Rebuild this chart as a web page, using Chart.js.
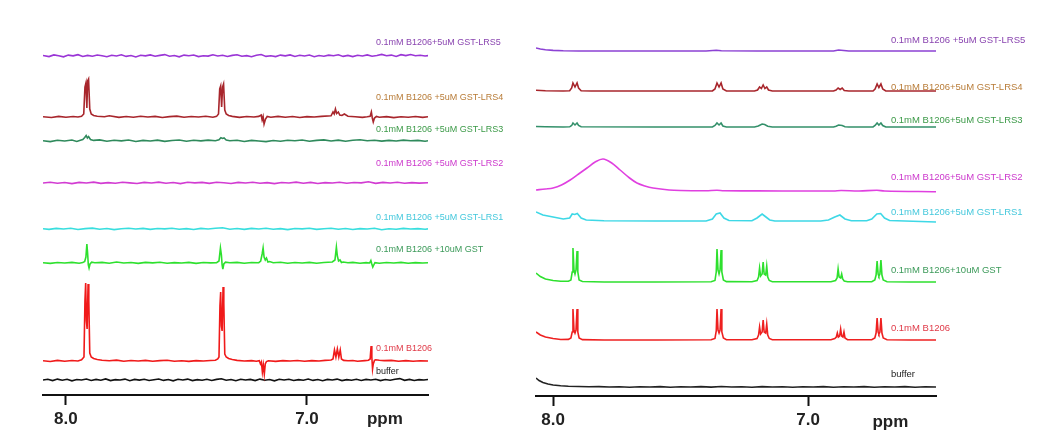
<!DOCTYPE html>
<html>
<head>
<meta charset="utf-8">
<script src="https://cdn.jsdelivr.net/npm/chart.js@4.4.1/dist/chart.umd.min.js"></script>
<style>
  body { margin: 0; background: #fff; }
  .panel { position: absolute; top: 0; height: 440px; }
</style>
</head>
<body>
<div class="panel" style="left:0;width:523px"><canvas id="leftChart" width="523" height="440"></canvas></div>
<div class="panel" style="left:523px;width:524px"><canvas id="rightChart" width="524" height="440"></canvas></div>
<script>
// Tick labels on the ppm axis
const ppmTicks = [8.0, 7.0];

// ---------- left panel spectra, [ppm, intensity] ----------
const leftLRS5 = [[8.095,0.5],[8.07,-0.6],[8.05,1.1],[8.03,0.2],[8.01,-0.8],[7.99,0.9],[7.97,0.1],[7.95,1.3],[7.93,-0.5],[7.91,0.6],[7.89,-0.2],[7.87,1.0],[7.85,0.2],[7.83,-0.7],[7.81,0.8],[7.79,0.0],[7.77,1.2],[7.75,-0.4],[7.73,0.5],[7.71,-0.9],[7.69,0.7],[7.67,0.1],[7.65,1.1],[7.63,-0.3],[7.61,0.6],[7.59,1.4],[7.57,-0.2],[7.55,0.5],[7.53,-0.8],[7.51,0.9],[7.49,0.2],[7.47,1.0],[7.45,-0.6],[7.43,0.3],[7.41,-0.1],[7.39,1.2],[7.37,0.0],[7.35,0.8],[7.33,-0.5],[7.31,0.6],[7.29,1.3],[7.27,-0.3],[7.25,0.4],[7.23,-0.7],[7.21,0.8],[7.19,1.5],[7.17,-0.4],[7.15,0.3],[7.13,-0.6],[7.11,0.9],[7.09,0.1],[7.07,1.1],[7.05,-0.5],[7.03,0.7],[7.01,0.0],[6.99,1.0],[6.97,-0.7],[6.95,0.5],[6.93,-0.2],[6.91,0.9],[6.89,0.3],[6.87,1.2],[6.85,-0.4],[6.83,0.6],[6.81,-0.6],[6.79,0.8],[6.77,0.0],[6.75,1.1],[6.73,-0.3],[6.71,0.5],[6.69,1.6],[6.67,0.2],[6.65,0.9],[6.63,-0.5],[6.61,1.3],[6.59,0.4],[6.57,1.5],[6.55,0.3],[6.53,0.8],[6.51,0.0],[6.498,0.4]];
const leftLRS4 = [[8.095,0.3],[8.06,-0.5],[8.03,0.6],[8.0,-0.3],[7.97,0.5],[7.95,0.0],[7.935,0.8],[7.926,3],[7.921,30],[7.917,34],[7.913,9],[7.910,36],[7.906,38],[7.901,8],[7.895,3],[7.885,1.5],[7.87,0.8],[7.84,0.2],[7.82,1.2],[7.78,-0.4],[7.75,0.5],[7.72,-0.2],[7.69,0.8],[7.66,0.0],[7.63,0.6],[7.60,-0.5],[7.57,0.4],[7.54,0.9],[7.51,-0.3],[7.48,0.5],[7.45,0.0],[7.42,0.7],[7.39,-0.2],[7.375,0.6],[7.367,3],[7.362,28],[7.358,31],[7.354,10],[7.350,30],[7.346,33],[7.341,7],[7.335,3],[7.325,1.5],[7.31,0.6],[7.28,-0.4],[7.25,0.5],[7.22,0.0],[7.20,0.6],[7.19,2],[7.186,-3],[7.182,0.5],[7.178,-7],[7.172,-2],[7.165,0.5],[7.15,-0.3],[7.12,0.6],[7.09,-0.2],[7.06,0.5],[7.03,-0.5],[7.0,0.4],[6.97,0.0],[6.94,0.6],[6.90,1.2],[6.892,5],[6.887,3],[6.882,8],[6.877,3.5],[6.870,5],[6.864,2],[6.855,1.5],[6.845,3],[6.83,0.8],[6.80,0.2],[6.77,-0.4],[6.75,0.3],[6.738,0.8],[6.733,5],[6.729,-1],[6.725,-5],[6.72,-1],[6.712,0.5],[6.70,-0.3],[6.67,0.4],[6.64,-0.6],[6.61,0.3],[6.58,-0.2],[6.55,0.5],[6.52,-0.4],[6.498,0.2]];
const leftLRS3 = [[8.095,0.2],[8.065,-0.6],[8.035,0.8],[8.005,0.0],[7.975,1.0],[7.955,-0.4],[7.94,0.8],[7.93,1.5],[7.922,3.5],[7.916,5.5],[7.911,3],[7.906,4.5],[7.898,1.5],[7.885,0.6],[7.86,1.1],[7.83,-0.3],[7.80,0.7],[7.77,0.1],[7.74,1.0],[7.71,-0.5],[7.68,0.6],[7.65,0.0],[7.62,0.9],[7.59,-0.4],[7.56,0.5],[7.53,1.0],[7.50,-0.2],[7.47,0.7],[7.44,0.1],[7.41,0.9],[7.38,0.3],[7.365,1.2],[7.357,3.2],[7.35,2.5],[7.344,3],[7.335,1],[7.32,0.2],[7.29,0.8],[7.26,-0.5],[7.23,0.6],[7.20,0.0],[7.17,-0.6],[7.14,0.5],[7.11,-0.2],[7.08,0.8],[7.05,0.2],[7.02,1.0],[6.99,-0.3],[6.96,0.6],[6.93,1.1],[6.90,0.0],[6.87,0.9],[6.84,-0.2],[6.81,0.7],[6.78,1.2],[6.75,0.3],[6.72,0.8],[6.69,-0.1],[6.66,0.6],[6.63,0.0],[6.60,0.9],[6.57,0.3],[6.54,0.6],[6.51,-0.2],[6.498,0.2]];
const leftLRS2 = [[8.095,0.0],[8.065,0.7],[8.035,-0.3],[8.005,0.5],[7.975,-0.6],[7.945,0.6],[7.915,0.0],[7.885,0.9],[7.855,-0.4],[7.825,0.4],[7.795,-0.2],[7.765,0.8],[7.735,0.1],[7.705,-0.5],[7.675,0.6],[7.645,0.0],[7.615,0.9],[7.585,-0.3],[7.555,0.5],[7.525,-0.6],[7.495,0.7],[7.465,0.1],[7.435,0.6],[7.405,-0.4],[7.375,0.8],[7.345,0.2],[7.315,-0.5],[7.285,0.6],[7.255,0.0],[7.225,0.8],[7.195,-0.3],[7.165,0.4],[7.135,-0.6],[7.105,0.5],[7.075,0.0],[7.045,0.9],[7.015,-0.2],[6.985,0.6],[6.955,-0.5],[6.925,0.4],[6.895,0.0],[6.865,0.8],[6.835,-0.3],[6.805,0.5],[6.775,0.1],[6.745,1.3],[6.715,-0.4],[6.685,0.6],[6.655,0.0],[6.625,0.7],[6.595,-0.3],[6.565,0.4],[6.535,-0.1],[6.498,0.2]];
const leftLRS1 = [[8.095,0.3],[8.07,-0.4],[8.04,0.6],[8.01,0.0],[7.98,0.7],[7.95,-0.5],[7.92,0.4],[7.89,0.9],[7.86,-0.2],[7.83,0.5],[7.80,-0.6],[7.77,0.3],[7.74,0.8],[7.71,0.0],[7.68,0.6],[7.65,-0.4],[7.62,0.5],[7.59,0.1],[7.56,0.8],[7.53,-0.3],[7.50,0.4],[7.47,-0.5],[7.44,0.6],[7.41,0.0],[7.38,0.7],[7.35,1.3],[7.32,-0.2],[7.29,0.5],[7.26,-0.4],[7.23,0.6],[7.20,0.0],[7.17,0.8],[7.14,-0.3],[7.11,0.4],[7.08,-0.6],[7.05,0.5],[7.02,0.1],[6.99,0.7],[6.96,-0.4],[6.93,0.3],[6.90,0.8],[6.87,-0.2],[6.84,0.5],[6.81,-0.5],[6.78,0.4],[6.75,0.0],[6.72,0.7],[6.69,-0.8],[6.66,0.3],[6.63,-0.3],[6.60,0.6],[6.57,0.0],[6.54,0.4],[6.51,-0.2],[6.498,0.1]];
const leftGST = [[8.095,0.2],[8.065,-0.4],[8.035,0.5],[8.005,0.0],[7.975,0.6],[7.945,-0.3],[7.93,0.4],[7.922,1.5],[7.917,6],[7.913,19],[7.910,10],[7.907,-2],[7.904,-5],[7.900,-1],[7.893,0.8],[7.88,0.2],[7.85,0.6],[7.82,-0.3],[7.79,1.0],[7.76,0.0],[7.73,0.5],[7.70,-0.4],[7.67,0.6],[7.64,0.1],[7.61,0.7],[7.58,-0.3],[7.55,0.4],[7.52,0.0],[7.49,0.6],[7.46,-0.4],[7.43,0.5],[7.40,0.1],[7.375,0.4],[7.365,2],[7.359,15],[7.355,8],[7.352,-2],[7.349,-6],[7.345,-1],[7.338,0.8],[7.32,0.3],[7.29,0.6],[7.26,-0.2],[7.23,0.5],[7.20,0.3],[7.192,2],[7.186,9],[7.182,15],[7.178,6],[7.173,3],[7.168,5],[7.162,1],[7.155,1.5],[7.14,0.3],[7.11,0.7],[7.08,-0.2],[7.05,0.5],[7.02,0.0],[6.99,0.6],[6.96,-0.3],[6.93,0.5],[6.895,1],[6.884,3],[6.878,16],[6.874,7],[6.869,2],[6.863,3],[6.857,0.5],[6.85,1],[6.83,0.2],[6.81,0.6],[6.78,-0.2],[6.755,0.4],[6.74,0.0],[6.735,2.5],[6.731,-1],[6.727,-4],[6.723,-2],[6.718,0.3],[6.70,-0.2],[6.67,0.5],[6.64,0.0],[6.61,0.6],[6.58,-0.2],[6.55,0.4],[6.52,0.0],[6.498,0.3]];
const leftB1206 = [[8.095,0.3],[8.065,-0.5],[8.035,0.6],[8.005,-0.2],[7.975,0.5],[7.95,0.0],[7.935,1.2],[7.925,4],[7.921,60],[7.918,78],[7.915,40],[7.912,32],[7.908,77],[7.905,60],[7.901,8],[7.895,4],[7.885,2.5],[7.87,1.5],[7.85,0.8],[7.82,0.3],[7.79,0.9],[7.76,-0.2],[7.73,0.5],[7.70,0.0],[7.67,0.6],[7.64,-0.3],[7.61,0.4],[7.58,0.8],[7.55,-0.2],[7.52,0.3],[7.49,-0.4],[7.46,0.4],[7.43,0.0],[7.40,0.5],[7.38,0.8],[7.37,2],[7.365,4],[7.361,55],[7.358,69],[7.355,35],[7.352,30],[7.348,74],[7.345,58],[7.341,7],[7.335,4],[7.325,2.5],[7.31,1.5],[7.29,0.6],[7.26,0.0],[7.23,0.4],[7.21,-0.3],[7.198,0.4],[7.193,-3],[7.189,-1],[7.185,-11],[7.181,-4],[7.177,-13],[7.173,-3],[7.168,-0.5],[7.16,0.3],[7.13,-0.4],[7.10,0.4],[7.07,0.0],[7.04,0.5],[7.01,-0.3],[6.98,0.4],[6.95,0.0],[6.925,0.6],[6.90,1],[6.892,2],[6.886,11],[6.880,4],[6.874,12],[6.868,4],[6.862,11],[6.857,2],[6.848,0.6],[6.83,0.2],[6.81,0.5],[6.79,-0.3],[6.76,0.4],[6.745,0.8],[6.738,2],[6.734,15],[6.731,4],[6.728,-8],[6.725,-3],[6.72,0.6],[6.715,1.2],[6.70,0.8],[6.68,0.4],[6.65,0.6],[6.62,-0.2],[6.59,0.4],[6.56,-0.3],[6.53,0.3],[6.498,0.0]];
const leftBuffer = [[8.095,0.0],[8.075,0.8],[8.055,-0.6],[8.035,0.9],[8.015,-0.2],[7.995,0.7],[7.975,-0.8],[7.955,0.5],[7.935,0.0],[7.915,1.0],[7.895,-0.5],[7.875,0.6],[7.855,-0.3],[7.835,1.1],[7.815,-0.6],[7.795,0.4],[7.775,0.0],[7.755,0.9],[7.735,-0.7],[7.715,0.6],[7.695,-0.1],[7.675,0.8],[7.655,-0.5],[7.635,0.3],[7.615,1.0],[7.595,-0.4],[7.575,0.5],[7.555,-0.8],[7.535,0.7],[7.515,0.0],[7.495,0.9],[7.475,-0.6],[7.455,0.4],[7.435,-0.2],[7.415,0.8],[7.395,-0.5],[7.375,0.6],[7.355,1.2],[7.335,-0.3],[7.315,0.5],[7.295,-0.7],[7.275,0.8],[7.255,0.0],[7.235,0.6],[7.215,-0.6],[7.195,0.9],[7.175,-0.2],[7.155,0.5],[7.135,-0.8],[7.115,0.7],[7.095,0.0],[7.075,0.8],[7.055,-0.5],[7.035,0.4],[7.015,-0.3],[6.995,1.0],[6.975,-0.4],[6.955,0.5],[6.935,-0.7],[6.915,0.6],[6.895,0.0],[6.875,0.9],[6.855,-0.6],[6.835,0.4],[6.815,-0.2],[6.795,0.8],[6.775,-0.5],[6.755,0.6],[6.735,0.0],[6.715,0.7],[6.695,-0.6],[6.675,0.5],[6.655,-0.2],[6.635,0.8],[6.615,1.4],[6.595,-0.3],[6.575,0.6],[6.555,-0.5],[6.535,0.4],[6.515,0.0],[6.498,0.5]];

// ---------- right panel spectra, [ppm, intensity] ----------
const rightLRS5 = [[8.067,3],[8.05,2],[8.03,1.2],[8.0,0.6],[7.96,0.2],[7.9,0],[7.8,0],[7.6,0],[7.40,0],[7.36,0.8],[7.34,0.2],[7.2,0],[7.0,0],[6.90,0],[6.88,1],[6.86,0.5],[6.84,0],[6.7,0],[6.498,0]];
const rightLRS4 = [[8.067,0.8],[8.03,0.3],[7.96,0],[7.935,0.3],[7.927,3],[7.922,8],[7.914,4],[7.906,8],[7.900,3],[7.890,0.3],[7.85,0],[7.6,0],[7.375,0],[7.365,2],[7.357,8],[7.349,4],[7.341,8],[7.334,2],[7.32,0],[7.21,0],[7.198,1],[7.190,4],[7.183,2.5],[7.176,6],[7.169,2.5],[7.162,4],[7.155,1],[7.14,0],[6.90,0],[6.89,1],[6.882,3],[6.874,1.5],[6.866,3],[6.858,0.5],[6.84,0],[6.745,0],[6.737,2],[6.729,7],[6.722,3.5],[6.714,7],[6.707,2],[6.695,0],[6.498,0]];
const rightLRS3 = [[8.067,0.5],[8.03,0.2],[7.96,0],[7.935,0.2],[7.927,1.5],[7.922,4],[7.914,2],[7.906,4],[7.900,1.5],[7.89,0.2],[7.6,0],[7.375,0],[7.365,1.5],[7.357,4],[7.349,2],[7.341,4],[7.334,1],[7.32,0],[7.21,0],[7.195,1],[7.180,3],[7.170,2.5],[7.158,0.8],[7.14,0],[6.90,0],[6.89,0.8],[6.880,2],[6.866,1.5],[6.855,0.3],[6.84,0],[6.745,0],[6.737,1.5],[6.729,4],[6.722,2],[6.714,4],[6.707,1.5],[6.695,0],[6.498,0]];
const rightLRS2 = [[8.067,1],[8.03,2],[8.0,3],[7.967,6],[7.933,11],[7.90,17],[7.867,23],[7.835,29],[7.804,32],[7.77,28],[7.737,21],[7.70,13],[7.671,8],[7.64,5],[7.608,3],[7.545,1],[7.50,0.5],[7.40,0.3],[7.357,0.8],[7.33,0.2],[7.2,0.1],[7.0,0],[6.90,0],[6.87,0.5],[6.80,0],[6.73,0.8],[6.70,0],[6.498,-0.8]];
const rightLRS1 = [[8.067,9],[8.04,6],[8.0,4],[7.96,2],[7.935,3],[7.925,7],[7.915,6.5],[7.905,7.5],[7.89,3],[7.87,1],[7.8,0.3],[7.6,0],[7.40,0],[7.375,2],[7.36,7],[7.345,8],[7.33,3],[7.31,0.5],[7.22,0.3],[7.2,3],[7.18,7],[7.165,4],[7.15,1],[7.13,0],[6.95,0],[6.92,1],[6.895,4],[6.875,6],[6.855,2],[6.83,0.3],[6.77,0.2],[6.75,2],[6.73,7],[6.715,7.5],[6.70,3],[6.68,0.5],[6.498,-1]];
const rightGST = [[8.067,9],[8.05,5.5],[8.03,3],[8.0,1.5],[7.97,0.8],[7.94,0.8],[7.93,2],[7.925,10],[7.922,34],[7.918,12],[7.914,8],[7.910,12],[7.906,31],[7.903,10],[7.898,2],[7.885,0.5],[7.8,0],[7.6,0],[7.38,0.2],[7.365,1.5],[7.36,10],[7.357,33],[7.353,12],[7.349,8],[7.345,12],[7.341,32],[7.338,10],[7.332,2],[7.32,0.4],[7.22,0.2],[7.2,1.5],[7.194,5],[7.190,14],[7.186,6],[7.180,8],[7.176,20],[7.172,8],[7.166,7],[7.162,16],[7.158,5],[7.152,1.5],[7.14,0.3],[6.91,0.2],[6.892,1.5],[6.886,4],[6.882,13],[6.878,5],[6.872,4],[6.868,8],[6.864,3],[6.858,1],[6.845,0.2],[6.75,0.2],[6.738,2],[6.733,7],[6.729,21],[6.725,8],[6.722,6],[6.718,8],[6.714,22],[6.710,7],[6.705,2],[6.69,0.3],[6.6,0],[6.498,0]];
const rightB1206 = [[8.067,8],[8.05,5],[8.03,3],[8.0,1.5],[7.97,0.5],[7.94,0.6],[7.93,2],[7.925,8],[7.922,31],[7.918,10],[7.914,7],[7.910,10],[7.906,31],[7.903,8],[7.898,2],[7.885,0.4],[7.8,0],[7.6,0],[7.38,0.2],[7.365,1.5],[7.36,9],[7.357,31],[7.353,10],[7.349,7],[7.345,10],[7.341,31],[7.338,8],[7.332,2],[7.32,0.3],[7.22,0.2],[7.2,1.5],[7.194,5],[7.190,13],[7.186,6],[7.180,8],[7.176,20],[7.172,8],[7.166,7],[7.162,16],[7.158,5],[7.152,1.5],[7.14,0.3],[6.91,0.2],[6.895,1.5],[6.889,3],[6.885,7],[6.881,3],[6.876,4],[6.872,11],[6.868,4],[6.863,3],[6.859,8],[6.855,2],[6.845,0.3],[6.75,0.2],[6.738,2],[6.733,7],[6.729,22],[6.725,8],[6.722,6],[6.718,8],[6.714,22],[6.710,7],[6.705,2],[6.69,0.3],[6.6,0],[6.498,0]];
const rightBuffer = [[8.067,9],[8.055,6.5],[8.04,4.5],[8.02,3],[8.0,2],[7.97,1.2],[7.94,0.7],[7.90,0.5],[7.86,0.2],[7.82,0.4],[7.78,0],[7.74,0.3],[7.70,-0.2],[7.66,0.3],[7.62,0],[7.58,0.4],[7.54,-0.2],[7.50,0.3],[7.46,0],[7.42,0.4],[7.38,-0.1],[7.34,0.5],[7.30,0],[7.26,0.3],[7.22,-0.2],[7.18,0.4],[7.14,0],[7.10,0.3],[7.06,-0.2],[7.02,0.3],[6.98,0],[6.94,0.4],[6.90,-0.2],[6.86,0.3],[6.82,0],[6.78,0.4],[6.74,-0.2],[6.70,0.3],[6.66,0],[6.62,0.4],[6.58,-0.2],[6.54,0.3],[6.498,0]];

// Sample names, top to bottom
const leftNames = ["0.1mM B1206+5uM GST-LRS5", "0.1mM B1206 +5uM GST-LRS4", "0.1mM B1206 +5uM GST-LRS3", "0.1mM B1206 +5uM GST-LRS2", "0.1mM B1206 +5uM GST-LRS1", "0.1mM B1206 +10uM GST", "0.1mM B1206", "buffer"];
const rightNames = ["0.1mM B1206 +5uM GST-LRS5", "0.1mM B1206+5uM GST-LRS4", "0.1mM B1206+5uM GST-LRS3", "0.1mM B1206+5uM GST-LRS2", "0.1mM B1206+5uM GST-LRS1", "0.1mM B1206+10uM GST", "0.1mM B1206", "buffer"];

// Plugin to draw sample names next to each trace and the "ppm" unit
const traceLabels = {
  id: "traceLabels",
  afterDatasetsDraw(chart, args, opts) {
    const ctx = chart.ctx;
    const x = chart.scales.x;
    const y = chart.scales.y;
    ctx.save();
    ctx.font = opts.font;
    ctx.textBaseline = "middle";
    ctx.textAlign = "left";
    opts.names.forEach((name, i) => {
      ctx.fillStyle = opts.colors[i];
      ctx.fillText(name, x.getPixelForValue(opts.labelPpm), y.getPixelForValue(opts.offsets[i] + opts.lift[i]));
    });
    // unit label sits on the tick label line
    ctx.font = "bold 17px 'Liberation Sans', Arial, sans-serif";
    ctx.fillStyle = "#222";
    ctx.textAlign = "center";
    ctx.fillText("ppm", x.getPixelForValue(opts.unitPpm), chart.chartArea.bottom + opts.unitDrop);
    ctx.restore();
  },
};

function makePanel(id, p) {
  const datasets = p.traces.map((trace, i) => ({
    data: trace.map((pt) => ({ x: pt[0], y: pt[1] + p.offsets[i] })),
    borderColor: p.lineColors[i],
    borderWidth: p.lineWidth,
    pointRadius: 0,
    tension: p.tensions ? p.tensions[i] : 0,
    fill: false,
  }));

  return new Chart(id, {
    type: "line",
    data: { datasets: datasets },
    options: {
      responsive: false,
      animation: false,
      layout: { padding: { left: p.padLeft, right: p.padRight, top: 0, bottom: 0 } },
      plugins: {
        legend: { display: false },
        tooltip: { enabled: false },
        traceLabels: {
          names: p.names,
          colors: p.labelColors,
          offsets: p.offsets,
          lift: p.lift,
          labelPpm: p.labelPpm,
          font: p.labelFont,
          unitPpm: 6.677,
          unitDrop: p.unitDrop,
        },
      },
      scales: {
        x: {
          type: "linear",
          reverse: true,
          min: p.xMin,
          max: p.xMax,
          afterBuildTicks: (scale) => {
            scale.ticks = ppmTicks.map((v) => ({ value: v }));
          },
          afterFit: (scale) => {
            scale.height = p.axisHeight;
          },
          border: { display: true, color: "#111", width: 2 },
          grid: { display: true, drawOnChartArea: false, drawTicks: true, tickLength: 10, tickWidth: 2, tickColor: "#111" },
          ticks: {
            autoSkip: false,
            maxRotation: 0,
            padding: 4,
            color: "#222",
            font: { family: "'Liberation Sans', Arial, sans-serif", size: 17, weight: "bold" },
            callback: (v) => Number(v).toFixed(1),
          },
        },
        y: { display: false, min: 0, max: p.yMax },
      },
    },
    plugins: [traceLabels],
  });
}

// left panel
makePanel("leftChart", {
  traces: [leftLRS5, leftLRS4, leftLRS3, leftLRS2, leftLRS1, leftGST, leftB1206, leftBuffer],
  offsets: [339, 278, 254, 212, 166, 132, 34, 15],
  lineColors: ["#9a35d6", "#a8262c", "#2f8a5c", "#d23cd2", "#38dede", "#2ee02e", "#f01a1a", "#111111"],
  labelColors: ["#8a45b0", "#b87c38", "#3c9a48", "#cc38cc", "#44c8dc", "#3c9a5a", "#e03a48", "#222222"],
  names: leftNames,
  lift: [13, 19, 11, 19, 11, 13, 12, 8],
  labelPpm: 6.714,
  labelFont: "9px 'Liberation Sans', Arial, sans-serif",
  lineWidth: 1.6,
  xMin: 6.498,
  xMax: 8.095,
  yMax: 395,
  axisHeight: 45,
  padLeft: 43,
  padRight: 95,
  unitDrop: 24,
});

// right panel
makePanel("rightChart", {
  traces: [rightLRS5, rightLRS4, rightLRS3, rightLRS2, rightLRS1, rightGST, rightB1206, rightBuffer],
  offsets: [345, 305, 269, 205, 175, 114, 56, 9],
  lineColors: ["#8c42d4", "#a8262c", "#33906a", "#e040e0", "#3ed8e6", "#2ee02e", "#ee2020", "#222222"],
  labelColors: ["#8a45b0", "#b87c38", "#3c9a48", "#cc38cc", "#44c8dc", "#3c9a5a", "#e03a48", "#222222"],
  names: rightNames,
  lift: [11, 4, 7, 14, 9, 12, 12, 13],
  tensions: [0, 0, 0, 0.35, 0, 0, 0, 0],
  labelPpm: 6.675,
  labelFont: "9.5px 'Liberation Sans', Arial, sans-serif",
  lineWidth: 1.6,
  xMin: 6.498,
  xMax: 8.067,
  yMax: 396,
  axisHeight: 44,
  padLeft: 13,
  padRight: 111,
  unitDrop: 26,
});
</script>
</body>
</html>
